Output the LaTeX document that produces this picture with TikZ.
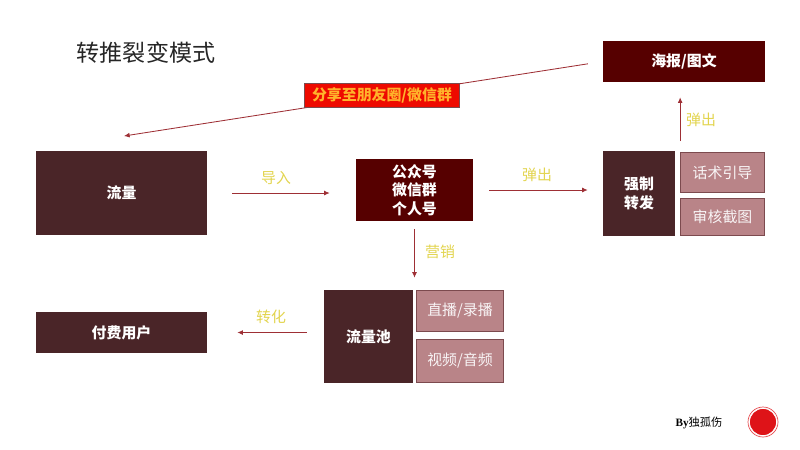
\documentclass[tikz,border=0pt]{standalone}
\usepackage{fontspec}
\setmainfont{Noto Sans CJK SC}
\newfontfamily\byfont{Liberation Serif}
\definecolor{boxdark}{HTML}{4A2528}
\definecolor{boxmaroon}{HTML}{560000}
\definecolor{boxpink}{HTML}{B98488}
\definecolor{boxedge}{HTML}{7C4A4E}
\definecolor{arrowred}{HTML}{9E2F35}
\definecolor{labelyellow}{HTML}{E2D44E}
\definecolor{labelorange}{HTML}{FFB32B}
\definecolor{sharered}{HTML}{EE0A00}
\definecolor{sealred}{HTML}{DE1318}
\tikzset{
  darkbox/.style={fill=boxdark,text=white,font=\fontsize{10.6pt}{13pt}\selectfont\bfseries,align=center,inner sep=0pt},
  maroonbox/.style={darkbox,fill=boxmaroon},
  pinkbox/.style={darkbox,fill=boxpink,draw=boxedge,line width=0.5pt,text=white!92!boxpink,font=\fontsize{10.6pt}{13pt}\selectfont},
  flow/.style={draw=arrowred,line width=0.6pt,-{Latex[length=4pt,width=3.5pt]}},
  flowlabel/.style={text=labelyellow,font=\fontsize{10.6pt}{13pt}\selectfont,inner sep=0pt},
}
\usetikzlibrary{arrows.meta}
\begin{document}
\begin{tikzpicture}[x=0.025cm,y=-0.025cm]
\useasboundingbox (0,0) rectangle (800,449);

\node[inner sep=0pt,text=black!85,font=\fontsize{16.4pt}{20pt}\selectfont] (title) at (146,53) {转推裂变模式};

\node[darkbox,minimum width=4.275cm,minimum height=2.1cm] (liuliang) at (121.5,193) {流量};
\node[maroonbox,minimum width=2.925cm,minimum height=1.55cm] (gongzhong) at (414.5,190) {公众号\\微信群\\个人号};
\node[maroonbox,minimum width=4.05cm,minimum height=1.025cm] (haibao) at (684,61.5) {海报/图文};
\node[darkbox,minimum width=1.8cm,minimum height=2.125cm] (zhuanfa) at (639,193.5) {强制\\转发};
\node[pinkbox,minimum width=2.1cm,minimum height=1cm] (huashu) at (722.5,172.5) {话术引导};
\node[pinkbox,minimum width=2.1cm,minimum height=0.925cm] (shenhe) at (722.5,217) {审核截图};
\node[darkbox,minimum width=2.225cm,minimum height=2.325cm] (pool) at (368.5,336.5) {流量池};
\node[pinkbox,minimum width=2.175cm,minimum height=1.025cm] (zhibo) at (460,311) {直播/录播};
\node[pinkbox,minimum width=2.175cm,minimum height=1.075cm] (shipin) at (460,361) {视频/音频};
\node[darkbox,minimum width=4.275cm,minimum height=1.025cm] (fufei) at (121.5,332.5) {付费用户};

\coordinate (sharetip) at (124,136);
\path[flow,shorten <=0.375cm] (haibao.west) -- (sharetip);
\node[fill=sharered,draw=boxedge,line width=0.4pt,text=labelorange,font=\fontsize{10.6pt}{13pt}\selectfont\bfseries,minimum width=3.875cm,minimum height=0.6cm,inner sep=0pt] (share) at (382,95.5) {分享至朋友圈/微信群};

\path[flow,shorten <=0.625cm,shorten >=0.65cm] (liuliang.east) -- (liuliang.east -| gongzhong.west);
\path[flow,shorten <=0.4cm,shorten >=0.375cm] (gongzhong.east) -- (gongzhong.east -| zhuanfa.west);
\path[flow,shorten <=0.275cm,shorten >=0.375cm] (huashu.north west) -- (huashu.north west |- haibao.south);
\path[flow,shorten <=0.2cm,shorten >=0.3cm] (gongzhong.south) -- (gongzhong.south |- pool.north);
\path[flow,shorten <=0.425cm,shorten >=0.75cm] (fufei.east -| pool.west) -- (fufei.east);

\node[flowlabel] (daoru) at (276,178) {导入};
\node[flowlabel] (tanchu1) at (537,175) {弹出};
\node[flowlabel] (tanchu2) at (701,120) {弹出};
\node[flowlabel] (yingxiao) at (440,252) {营销};
\node[flowlabel] (zhuanhua) at (271,317) {转化};

\node[inner sep=0pt,font=\fontsize{8pt}{10pt}\selectfont] (by) at (699,423) {{\byfont\bfseries By}独孤伤};
\node[circle,fill=sealred,draw=white,line width=0.6pt,minimum size=0.68cm,inner sep=0pt] (seal) at (763,422) {};
\node[circle,draw=sealred!75!white,line width=0.5pt,minimum size=0.75cm,inner sep=0pt] (sealring) at (763,422) {};
\end{tikzpicture}
\end{document}
